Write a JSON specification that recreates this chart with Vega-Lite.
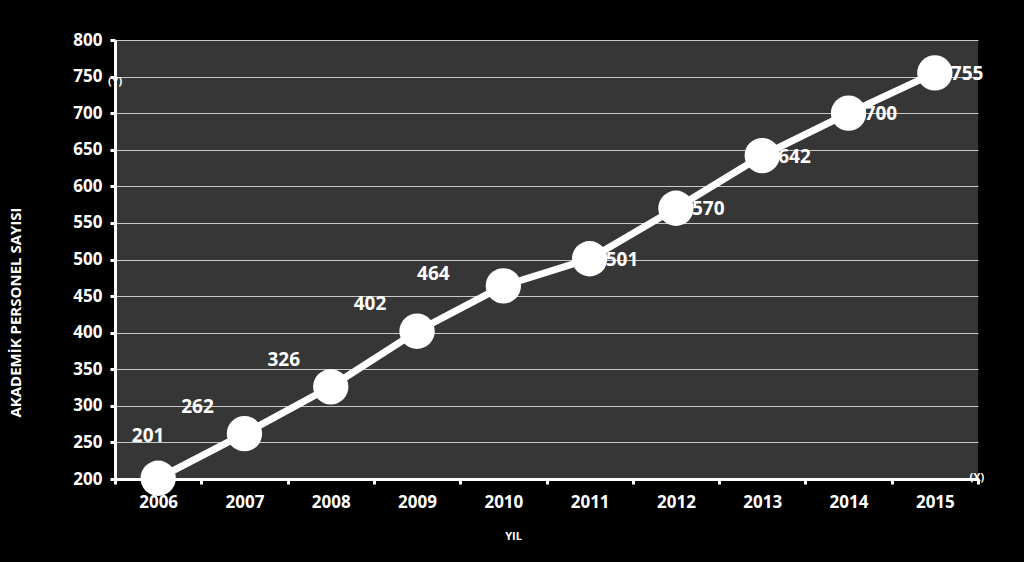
{
  "$schema": "https://vega.github.io/schema/vega-lite/v6.json",
  "width": 863,
  "height": 439,
  "autosize": {"type": "none"},
  "padding": {"left": 115, "top": 40, "right": 46, "bottom": 83},
  "background": "#000000",
  "config": {
    "view": {"fill": "#363636", "stroke": null},
    "font": "Open Sans",
    "axis": {
      "labelColor": "#ffffff",
      "labelFont": "Open Sans",
      "labelFontWeight": "bold",
      "labelFontSize": 17,
      "titleColor": "#ffffff",
      "titleFont": "Open Sans",
      "titleFontWeight": "bold",
      "titleFontSize": 12,
      "domainColor": "#ffffff",
      "domainWidth": 3,
      "tickColor": "#ffffff",
      "tickWidth": 3,
      "tickSize": 5,
      "gridColor": "#c8c8c8",
      "gridWidth": 1,
      "gridOpacity": 1
    }
  },
  "data": {
    "values": [
      {"year": "2006", "value": 201},
      {"year": "2007", "value": 262},
      {"year": "2008", "value": 326},
      {"year": "2009", "value": 402},
      {"year": "2010", "value": 464},
      {"year": "2011", "value": 501},
      {"year": "2012", "value": 570},
      {"year": "2013", "value": 642},
      {"year": "2014", "value": 700},
      {"year": "2015", "value": 755}
    ]
  },
  "encoding": {
    "x": {
      "field": "year",
      "type": "ordinal",
      "scale": {"type": "band", "paddingInner": 0, "paddingOuter": 0},
      "axis": {
        "title": "YIL",
        "labelAngle": 0,
        "labelPadding": 10,
        "grid": false,
        "tickBand": "extent",
        "titleX": 398,
        "titleY": 57,
        "titleFontSize": 11,
        "titleBaseline": "middle"
      }
    },
    "y": {
      "field": "value",
      "type": "quantitative",
      "scale": {"domain": [200, 800], "nice": false, "zero": false},
      "axis": {
        "title": "AKADEMİK PERSONEL SAYISI",
        "values": [200, 250, 300, 350, 400, 450, 500, 550, 600, 650, 700, 750, 800],
        "labelPadding": 8,
        "titleX": -100,
        "titleY": 272,
        "titleFontSize": 15,
        "titleAngle": -90,
        "titleBaseline": "middle"
      }
    }
  },
  "layer": [
    {"mark": {"type": "line", "color": "#ffffff", "strokeWidth": 7}},
    {"mark": {"type": "circle", "color": "#ffffff", "opacity": 1, "size": 1250}},
    {
      "transform": [{"filter": "datum.year == '2006'"}],
      "mark": {"type": "text", "color": "#ffffff", "fontWeight": "bold", "fontSize": 19, "dx": -10, "dy": -42},
      "encoding": {"text": {"field": "value", "type": "quantitative"}}
    },
    {
      "transform": [{"filter": "datum.year == '2007' || datum.year == '2008' || datum.year == '2009'"}],
      "mark": {"type": "text", "color": "#ffffff", "fontWeight": "bold", "fontSize": 19, "dx": -47, "dy": -27},
      "encoding": {"text": {"field": "value", "type": "quantitative"}}
    },
    {
      "transform": [{"filter": "datum.year == '2010'"}],
      "mark": {"type": "text", "color": "#ffffff", "fontWeight": "bold", "fontSize": 19, "dx": -70, "dy": -12},
      "encoding": {"text": {"field": "value", "type": "quantitative"}}
    },
    {
      "transform": [{"filter": "datum.value >= 480"}],
      "mark": {"type": "text", "color": "#ffffff", "fontWeight": "bold", "fontSize": 19, "align": "left", "dx": 16, "dy": 1},
      "encoding": {"text": {"field": "value", "type": "quantitative"}}
    },
    {
      "data": {"values": [{"t": "(Y)", "year": "2006", "value": 750}]},
      "mark": {"type": "text", "color": "#ffffff", "fontSize": 11, "fontWeight": "bold", "dx": -43, "dy": 5},
      "encoding": {"text": {"field": "t"}}
    },
    {
      "data": {"values": [{"t": "(X)", "year": "2015", "value": 200}]},
      "mark": {"type": "text", "color": "#ffffff", "fontSize": 11, "fontWeight": "bold", "dx": 42, "dy": -1},
      "encoding": {"text": {"field": "t"}}
    }
  ]
}
